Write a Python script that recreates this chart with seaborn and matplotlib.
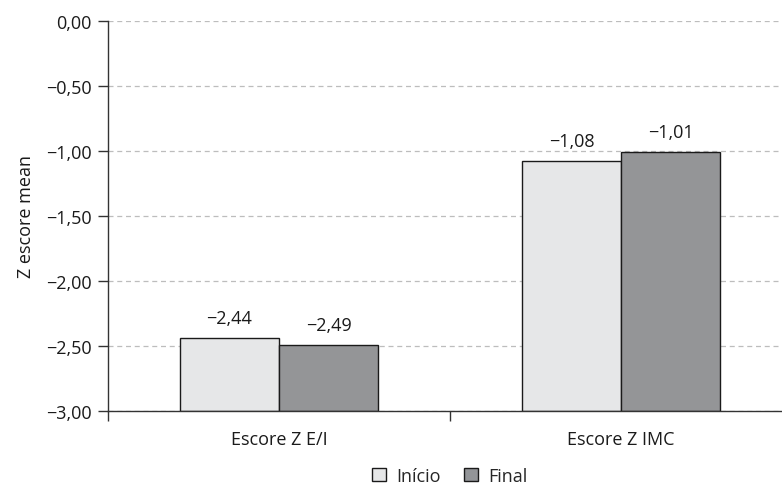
import matplotlib
matplotlib.use("Agg")
import matplotlib.pyplot as plt
from matplotlib.ticker import FuncFormatter, FixedLocator
from matplotlib.patches import Patch
import seaborn as sns
import pandas as pd

# Z-score means at the start and end of follow-up
categories = ["Escore Z E/I", "Escore Z IMC"]
periods = ["Início", "Final"]
inicio = [-2.44, -1.08]
final = [-2.49, -1.01]
y_ticks = [0.0, -0.5, -1.0, -1.5, -2.0, -2.5, -3.0]

BASE = -3.0
colors = {"Início": "#e6e7e8", "Final": "#939598"}
FS = 13

df = pd.DataFrame({
    "categoria": categories * 2,
    "periodo": [periods[0]] * len(categories) + [periods[1]] * len(categories),
    "valor": inicio + final,
})

sns.set_theme(style="white")
plt.rcParams["font.family"] = ["Open Sans", "DejaVu Sans"]


def fmt(v):
    s = f"{abs(v):.2f}".replace(".", ",")
    return ("\u2212" + s) if v < -1e-9 else s


fig = plt.figure(figsize=(7.82, 4.85), dpi=100)
ax = fig.add_axes([108 / 782, 73 / 485, (792 - 108) / 782, 390 / 485])

sns.barplot(data=df, x="categoria", y="valor", hue="periodo",
            hue_order=periods, order=categories, palette=colors,
            width=0.58, edgecolor="#1a1a1a", linewidth=1.0,
            errorbar=None, legend=False, ax=ax, zorder=3)

# bars rise from the bottom of the scale up to each mean, labelled above
for cont, vals in zip(ax.containers, [inicio, final]):
    for patch, v in zip(cont.patches, vals):
        patch.set_y(BASE)
        patch.set_height(v - BASE)
        ax.annotate(fmt(v), xy=(patch.get_x() + patch.get_width() / 2, v),
                    xytext=(0, 8), textcoords="offset points",
                    ha="center", va="bottom", fontsize=FS, color="#1a1a1a")

ax.set_ylim(BASE, 0)
ax.set_xlim(-0.5, len(categories) - 0.5)
ax.yaxis.set_major_locator(FixedLocator(y_ticks))
ax.yaxis.set_major_formatter(FuncFormatter(lambda v, p: fmt(v)))
ax.yaxis.grid(True, linestyle=(0, (4, 3)), color="#bdbdbd", linewidth=0.9, zorder=0)
ax.xaxis.grid(False)

ax.set_xticks(range(len(categories)))
ax.set_xticks([i - 0.5 for i in range(len(categories) + 1)], minor=True)
ax.tick_params(axis="x", which="major", length=0, pad=14, labelsize=FS,
               labelcolor="#1a1a1a")
ax.tick_params(axis="x", which="minor", length=7, width=1.0, color="#333333",
               direction="out", bottom=True)
ax.tick_params(axis="y", which="major", length=7, width=1.0, color="#333333",
               direction="out", left=True, labelsize=FS, labelcolor="#1a1a1a",
               pad=5)

for side in ("top", "right"):
    ax.spines[side].set_visible(False)
for side in ("left", "bottom"):
    ax.spines[side].set_color("#333333")
    ax.spines[side].set_linewidth(1.0)
ax.spines["bottom"].set_zorder(4)

ax.set_xlabel("")
ax.set_ylabel("Z escore mean", fontsize=FS, color="#1a1a1a", labelpad=8)

handles = [Patch(facecolor=colors[p], edgecolor="#1a1a1a", linewidth=1.0, label=p)
           for p in periods]
ax.legend(handles=handles, loc="center", bbox_to_anchor=(0.5, -0.167),
          ncol=2, frameon=False, fontsize=FS, handlelength=0.75,
          handleheight=0.75, handletextpad=0.6, columnspacing=1.3)

fig.savefig("out.png", dpi=100)
